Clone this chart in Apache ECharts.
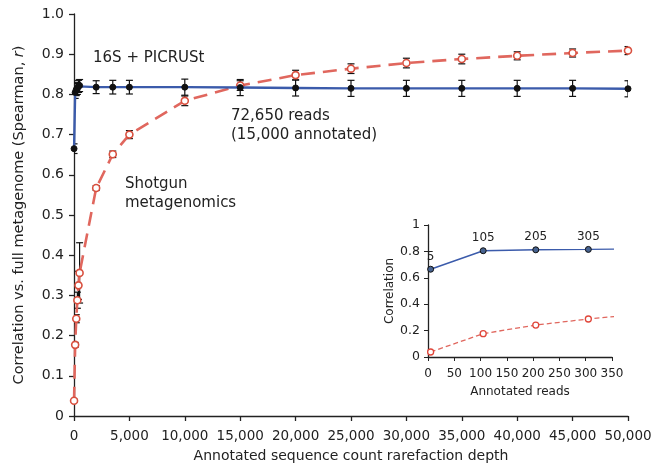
<!DOCTYPE html>
<html>
<head>
<meta charset="utf-8">
<script src="https://cdn.jsdelivr.net/npm/echarts@6/dist/echarts.min.js"></script>
<style>
  html, body { margin: 0; padding: 0; background: #fff; }
  #chart { width: 667px; height: 469px; }
</style>
</head>
<body>
<div id="chart"></div>
<script>
// rarefaction depths (annotated reads)
const depth = [5, 105, 205, 305, 405, 505, 2000, 3500, 5000, 10000, 15000, 20000, 25000, 30000, 35000, 40000, 45000, 50000];
// 16S + PICRUSt
const picrust    = [0.665, 0.805, 0.812, 0.815, 0.82, 0.822, 0.818, 0.818, 0.818, 0.818, 0.817, 0.816, 0.815, 0.815, 0.815, 0.815, 0.815, 0.814];
const picrustErr = [0.012, 0.015, 0.015, 0.015, 0.015, 0.015, 0.016, 0.017, 0.017, 0.02, 0.02, 0.02, 0.02, 0.02, 0.02, 0.02, 0.02, 0.02];
// shotgun metagenomics
const shotgun    = [0.038, 0.177, 0.242, 0.288, 0.325, 0.356, 0.567, 0.651, 0.70, 0.784, 0.822, 0.848, 0.864, 0.878, 0.888, 0.896, 0.903, 0.909];
const shotgunErr = [0.004, 0.006, 0.01, 0.02, 0.035, 0.075, 0.006, 0.008, 0.01, 0.012, 0.012, 0.012, 0.012, 0.012, 0.012, 0.01, 0.01, 0.01];
// inset point labels
const insetLabels = ['5', '105', '205', '305'];

const FONT = 'DejaVu Sans';
const BLUE = '#3b5bab';
const RED = '#e0675e';

const chart = echarts.init(document.getElementById('chart'), null, { renderer: 'canvas' });

function errorBars(vals, errs, axisIdx, cap, width) {
  return {
    type: 'custom',
    xAxisIndex: axisIdx,
    yAxisIndex: axisIdx,
    clip: true,
    silent: true,
    z: 4,
    data: depth.map((d, i) => [d, vals[i] - errs[i], vals[i] + errs[i]]),
    renderItem: function (params, api) {
      const lo = api.coord([api.value(0), api.value(1)]);
      const hi = api.coord([api.value(0), api.value(2)]);
      const st = { stroke: '#111', lineWidth: width };
      return {
        type: 'group',
        children: [
          { type: 'line', shape: { x1: lo[0], y1: lo[1], x2: hi[0], y2: hi[1] }, style: st },
          { type: 'line', shape: { x1: lo[0] - cap, y1: lo[1], x2: lo[0] + cap, y2: lo[1] }, style: st },
          { type: 'line', shape: { x1: hi[0] - cap, y1: hi[1], x2: hi[0] + cap, y2: hi[1] }, style: st }
        ]
      };
    }
  };
}

const axisLine = { show: true, lineStyle: { color: '#222', width: 1.3 } };
const axisTick = { show: true, length: 5, lineStyle: { color: '#222', width: 1.3 } };

const option = {
  backgroundColor: '#fff',
  animation: false,
  textStyle: { fontFamily: FONT },
  grid: [
    { left: 74, right: 39, top: 14, bottom: 53 },
    { left: 428, right: 55, top: 225, bottom: 112 }
  ],
  xAxis: [
    {
      gridIndex: 0, type: 'value', min: 0, max: 50000, interval: 5000,
      name: 'Annotated sequence count rarefaction depth',
      nameLocation: 'middle', nameGap: 33,
      nameTextStyle: { fontFamily: FONT, fontSize: 14, color: '#222', verticalAlign: 'top' },
      axisLine: axisLine, axisTick: axisTick, splitLine: { show: false },
      axisLabel: {
        fontFamily: FONT, fontSize: 13.5, color: '#222', margin: 13,
        formatter: v => v.toLocaleString('en-US')
      }
    },
    {
      gridIndex: 1, type: 'value', min: 0, max: 350, interval: 50,
      name: 'Annotated reads',
      nameLocation: 'middle', nameGap: 29,
      nameTextStyle: { fontFamily: FONT, fontSize: 12, color: '#222', verticalAlign: 'top' },
      axisLine: axisLine, axisTick: { show: true, length: 4, lineStyle: { color: '#222' } },
      splitLine: { show: false },
      axisLabel: { fontFamily: FONT, fontSize: 12, color: '#222', margin: 11 }
    }
  ],
  yAxis: [
    {
      gridIndex: 0, type: 'value', min: 0, max: 1, interval: 0.1,
      name: '{n|Correlation vs. full metagenome (Spearman, }{i|r}{n|)}',
      nameLocation: 'middle', nameGap: 47, nameRotate: 90,
      nameTextStyle: {
        rich: {
          n: { fontFamily: FONT, fontSize: 14.5, color: '#222' },
          i: { fontFamily: FONT, fontSize: 14.5, color: '#222', fontStyle: 'italic' }
        }
      },
      axisLine: axisLine, axisTick: axisTick, splitLine: { show: false },
      axisLabel: {
        fontFamily: FONT, fontSize: 14, color: '#222', margin: 10,
        formatter: v => (v === 0 ? '0' : v.toFixed(1))
      }
    },
    {
      gridIndex: 1, type: 'value', min: 0, max: 1, interval: 0.2,
      name: 'Correlation',
      nameLocation: 'middle', nameGap: 29, nameRotate: 90,
      nameTextStyle: { fontFamily: FONT, fontSize: 12, color: '#222' },
      axisLine: axisLine, axisTick: { show: true, length: 4, lineStyle: { color: '#222' } },
      splitLine: { show: false },
      axisLabel: {
        fontFamily: FONT, fontSize: 12.5, color: '#222', margin: 8,
        formatter: v => (v === 0 || v === 1 ? String(v) : v.toFixed(1))
      }
    }
  ],
  series: [
    errorBars(shotgun, shotgunErr, 0, 3.5, 1.2),
    errorBars(picrust, picrustErr, 0, 3.5, 1.2),
    {
      name: 'Shotgun metagenomics', type: 'line', xAxisIndex: 0, yAxisIndex: 0, z: 5,
      data: depth.map((d, i) => [d, shotgun[i]]),
      symbol: 'circle', symbolSize: 7,
      itemStyle: { color: '#fff', borderColor: '#d9503f', borderWidth: 1.6 },
      lineStyle: { color: RED, width: 2.6, type: [14, 8] }
    },
    {
      name: '16S + PICRUSt', type: 'line', xAxisIndex: 0, yAxisIndex: 0, z: 6,
      data: depth.map((d, i) => [d, picrust[i]]),
      symbol: 'circle', symbolSize: 6,
      itemStyle: { color: '#111', borderColor: '#111', borderWidth: 1 },
      lineStyle: { color: BLUE, width: 2.4 }
    },
    errorBars(picrust, picrustErr, 1, 1, 1),
    {
      type: 'line', xAxisIndex: 1, yAxisIndex: 1, clip: true, z: 5,
      data: depth.map((d, i) => [d, shotgun[i]]),
      symbol: 'circle', symbolSize: 6,
      itemStyle: { color: '#fff', borderColor: '#e0463a', borderWidth: 1.3 },
      lineStyle: { color: RED, width: 1.3, type: [5, 3] }
    },
    {
      type: 'line', xAxisIndex: 1, yAxisIndex: 1, clip: true, z: 6,
      data: depth.map((d, i) => ({
        value: [d, picrust[i]],
        label: { show: i < insetLabels.length, formatter: insetLabels[i] || '' }
      })),
      symbol: 'circle', symbolSize: 6,
      itemStyle: { color: '#46628f', borderColor: '#111', borderWidth: 1 },
      lineStyle: { color: BLUE, width: 1.4 },
      label: {
        position: 'top', distance: 3,
        fontFamily: FONT, fontSize: 12, color: '#222'
      }
    }
  ],
  graphic: [
    { type: 'text', left: 93, top: 51, style: { text: '16S + PICRUSt', font: '15px "DejaVu Sans"', fill: '#222' } },
    { type: 'text', left: 231, top: 109, style: { text: '72,650 reads', font: '15px "DejaVu Sans"', fill: '#222' } },
    { type: 'text', left: 231, top: 128, style: { text: '(15,000 annotated)', font: '15px "DejaVu Sans"', fill: '#222' } },
    { type: 'text', left: 125, top: 177, style: { text: 'Shotgun', font: '15px "DejaVu Sans"', fill: '#222' } },
    { type: 'text', left: 125, top: 196, style: { text: 'metagenomics', font: '15px "DejaVu Sans"', fill: '#222' } }
  ]
};

chart.setOption(option);
</script>
</body>
</html>
